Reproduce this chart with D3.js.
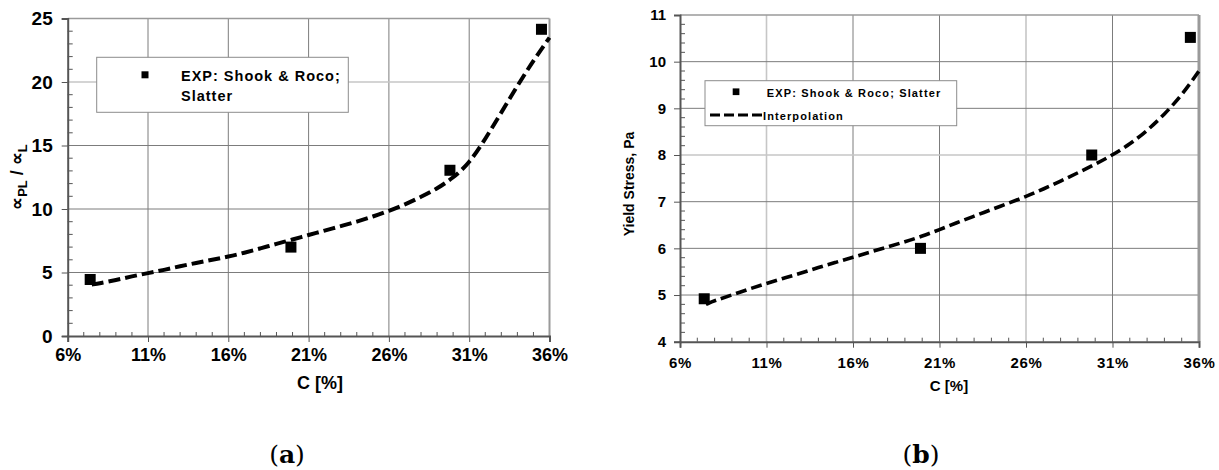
<!DOCTYPE html>
<html>
<head>
<meta charset="utf-8">
<script src="https://cdn.jsdelivr.net/npm/d3@7"></script>
<style>
  html, body { margin: 0; padding: 0; background: #fff; }
  svg { display: block; font-family: Arial, "Liberation Sans", sans-serif; }
  text { fill: #000; }
</style>
</head>
<body>
<svg id="fig" width="1219" height="470"></svg>
<script>
// Concentration axis (shared by both panels), in percent
const concTicks = [6, 11, 16, 21, 26, 31, 36];
const concTickLabels = ["6%", "11%", "16%", "21%", "26%", "31%", "36%"];

// Panel (a): friction ratio
const ratioTicks = [0, 5, 10, 15, 20, 25];
const expConcA = [7.4, 19.9, 29.8, 35.5];
const expRatioA = [4.45, 7.0, 13.05, 24.15];
const fitConcA = [7.5, 8, 9, 10, 11, 12, 13, 14, 15, 16, 17, 18, 19, 20, 21, 22, 23, 24, 25, 26, 27, 28, 29, 30, 31, 32, 33, 34, 35, 36];
const fitRatioA = [4.05, 4.15, 4.4, 4.7, 4.95, 5.2, 5.5, 5.75, 6.0, 6.25, 6.55, 6.9, 7.25, 7.6, 7.95, 8.3, 8.65, 9.0, 9.4, 9.85, 10.35, 10.95, 11.6, 12.45, 13.6, 15.5, 17.6, 19.7, 21.7, 23.5];

// Panel (b): yield stress
const stressTicks = [4, 5, 6, 7, 8, 9, 10, 11];
const expConcB = [7.4, 19.9, 29.8, 35.5];
const expStressB = [4.92, 6.0, 8.0, 10.52];
const fitConcB = [7.5, 8, 9, 10, 11, 12, 13, 14, 15, 16, 17, 18, 19, 20, 21, 22, 23, 24, 25, 26, 27, 28, 29, 30, 31, 32, 33, 34, 35, 36];
const fitStressB = [4.8, 4.88, 5.0, 5.13, 5.25, 5.36, 5.47, 5.59, 5.7, 5.81, 5.92, 6.03, 6.14, 6.26, 6.4, 6.55, 6.69, 6.83, 6.97, 7.11, 7.27, 7.44, 7.62, 7.8, 8.0, 8.23, 8.52, 8.87, 9.28, 9.8];

const svg = d3.select("#fig");

function drawPanel(p) {
  const x = d3.scaleLinear().domain([6, 36]).range([p.left, p.right]);
  const y = d3.scaleLinear().domain(p.yDomain).range([p.bottom, p.top]);
  const g = svg.append("g");

  // grid
  g.selectAll(".vg").data(concTicks.slice(1, -1)).join("line")
    .attr("x1", d => x(d)).attr("x2", d => x(d))
    .attr("y1", p.top).attr("y2", p.bottom)
    .attr("stroke", d => p.lightX.includes(d) ? "#c6c6c6" : "#7c7c7c")
    .attr("stroke-width", d => p.lightX.includes(d) ? 1.6 : 1);
  g.selectAll(".hg").data(p.yTicks.slice(1, -1)).join("line")
    .attr("x1", p.left).attr("x2", p.right)
    .attr("y1", d => y(d)).attr("y2", d => y(d))
    .attr("stroke", d => p.lightY.includes(d) ? "#c6c6c6" : "#7c7c7c")
    .attr("stroke-width", d => p.lightY.includes(d) ? 1.6 : 1);

  // top and right frame
  g.append("line").attr("x1", p.left).attr("x2", p.right).attr("y1", p.top).attr("y2", p.top)
    .attr("stroke", "#9a9a9a").attr("stroke-width", 1.5);
  g.append("line").attr("x1", p.right).attr("x2", p.right).attr("y1", p.top).attr("y2", p.bottom)
    .attr("stroke", "#9a9a9a").attr("stroke-width", p.rightW);

  // minor ticks (inside)
  const minorX = d3.range(7, 36, 1).filter(v => !concTicks.includes(v));
  g.selectAll(".mx").data(minorX).join("line")
    .attr("x1", d => x(d)).attr("x2", d => x(d))
    .attr("y1", p.bottom).attr("y2", p.bottom - 4)
    .attr("stroke", "#555").attr("stroke-width", 1);
  const minorY = d3.range(p.yDomain[0], p.yDomain[1], p.yMinor).filter(v => !p.yTicks.includes(+v.toFixed(3)));
  g.selectAll(".my").data(minorY).join("line")
    .attr("x1", p.left).attr("x2", p.left + 5)
    .attr("y1", d => y(d)).attr("y2", d => y(d))
    .attr("stroke", "#555").attr("stroke-width", 1);

  // axes
  const xAxis = d3.axisBottom(x).tickValues(concTicks)
    .tickFormat((d, i) => concTickLabels[i]).tickSize(6).tickPadding(p.xPad);
  const gx = g.append("g").attr("transform", `translate(0,${p.bottom})`).call(xAxis);
  gx.select(".domain").attr("stroke", "#555").attr("stroke-width", 2);
  gx.selectAll(".tick line").attr("stroke", "#555");
  gx.selectAll(".tick text").style("font-size", p.xFont + "px").style("font-weight", "bold")
    .style("letter-spacing", p.tickSpacing + "px").style("font-family", "Arial, 'Liberation Sans', sans-serif");

  const yAxis = d3.axisLeft(y).tickValues(p.yTicks).tickFormat(d3.format("d"))
    .tickSize(6).tickPadding(p.yPad);
  const gy = g.append("g").attr("transform", `translate(${p.left},0)`).call(yAxis);
  gy.select(".domain").attr("stroke", "#555").attr("stroke-width", 2);
  gy.selectAll(".tick line").attr("stroke", "#555");
  gy.selectAll(".tick text").style("font-size", p.yFont + "px").style("font-weight", "bold")
    .style("font-family", "Arial, 'Liberation Sans', sans-serif");

  // fitted curve
  const line = d3.line().x(d => x(d[0])).y(d => y(d[1])).curve(d3.curveBasis);
  g.append("path").datum(p.fitC.map((c, i) => [c, p.fitV[i]]))
    .attr("d", line).attr("fill", "none").attr("stroke", "#000")
    .attr("stroke-width", p.dashW).attr("stroke-dasharray", p.dash);

  // experimental points
  g.selectAll(".pt").data(p.expC.map((c, i) => [c, p.expV[i]])).join("rect")
    .attr("x", d => x(d[0]) - 5.5).attr("y", d => y(d[1]) - 5.5)
    .attr("width", 11).attr("height", 11).attr("fill", "#000");

  // axis titles
  g.append("text").attr("x", p.xTitleX).attr("y", p.xTitleY).attr("text-anchor", "middle")
    .style("font-size", p.xTitleFont + "px").style("font-weight", "bold").text("C [%]");
  return { x, y, g };
}

// ---- panel (a)
const A = drawPanel({
  left: 67.7, right: 549.5, top: 18.5, bottom: 336,
  yDomain: [0, 25], yTicks: ratioTicks, yMinor: 1,
  lightX: [], lightY: [20], rightW: 2,
  xFont: 18, yFont: 19, xPad: 6, yPad: 9, tickSpacing: 0,
  fitC: fitConcA, fitV: fitRatioA, expC: expConcA, expV: expRatioA,
  dashW: 4, dash: "12,5",
  xTitleX: 320, xTitleY: 389, xTitleFont: 18
});
// y title: ∝PL / ∝L
const ya = A.g.append("text").attr("transform", "translate(23,177) rotate(-90)")
  .attr("text-anchor", "middle").style("font-size", "18px").style("font-weight", "bold");
ya.append("tspan").text("∝");
ya.append("tspan").style("font-size", "13px").attr("dy", 4).text("PL");
ya.append("tspan").attr("dy", -4).text(" / ∝");
ya.append("tspan").style("font-size", "13px").attr("dy", 4).text("L");

// legend (a)
A.g.append("rect").attr("x", 96.7).attr("y", 57.3).attr("width", 251.6).attr("height", 55)
  .attr("fill", "#fff").attr("stroke", "#8c8c8c").attr("stroke-width", 1);
A.g.append("rect").attr("x", 141.5).attr("y", 71.3).attr("width", 7).attr("height", 7).attr("fill", "#000");
A.g.append("text").attr("x", 181).attr("y", 81).style("font-size", "14.5px").style("font-weight", "bold")
  .style("letter-spacing", "1px").text("EXP: Shook & Roco;");
A.g.append("text").attr("x", 181).attr("y", 101).style("font-size", "14.5px").style("font-weight", "bold")
  .style("letter-spacing", "1px").text("Slatter");

// ---- panel (b)
const B = drawPanel({
  left: 680, right: 1199, top: 15, bottom: 341.7,
  yDomain: [4, 11], yTicks: stressTicks, yMinor: 0.2,
  lightX: [11, 26], lightY: [8], rightW: 3,
  xFont: 15, yFont: 15, xPad: 10, yPad: 8, tickSpacing: 0.6,
  fitC: fitConcB, fitV: fitStressB, expC: expConcB, expV: expStressB,
  dashW: 3.6, dash: "11,5",
  xTitleX: 949, xTitleY: 391, xTitleFont: 15
});
B.g.append("text").attr("transform", "translate(634,184) rotate(-90)")
  .attr("text-anchor", "middle").style("font-size", "14px").style("font-weight", "bold")
  .text("Yield Stress, Pa");

// legend (b)
B.g.append("rect").attr("x", 705).attr("y", 80.7).attr("width", 251.7).attr("height", 45)
  .attr("fill", "#fff").attr("stroke", "#8c8c8c").attr("stroke-width", 1);
B.g.append("rect").attr("x", 732.7).attr("y", 88.4).attr("width", 6.7).attr("height", 6.7).attr("fill", "#000");
B.g.append("text").attr("x", 766.7).attr("y", 96.5).style("font-size", "11px").style("font-weight", "bold")
  .style("letter-spacing", "1.15px").text("EXP: Shook & Roco; Slatter");
B.g.append("line").attr("x1", 710).attr("x2", 762).attr("y1", 115).attr("y2", 115)
  .attr("stroke", "#000").attr("stroke-width", 3).attr("stroke-dasharray", "10,4");
B.g.append("text").attr("x", 763).attr("y", 119.5).style("font-size", "11px").style("font-weight", "bold")
  .style("letter-spacing", "1.1px").text("Interpolation");

// panel captions
[["a", 287], ["b", 921]].forEach(([lab, cx]) => {
  const t = svg.append("text").attr("x", cx).attr("y", 463).attr("text-anchor", "middle")
    .style("font-family", "'DejaVu Serif', 'Liberation Serif', serif").style("font-size", "25px");
  t.append("tspan").text("(");
  t.append("tspan").style("font-weight", "bold").text(lab);
  t.append("tspan").text(")");
});
</script>
</body>
</html>
